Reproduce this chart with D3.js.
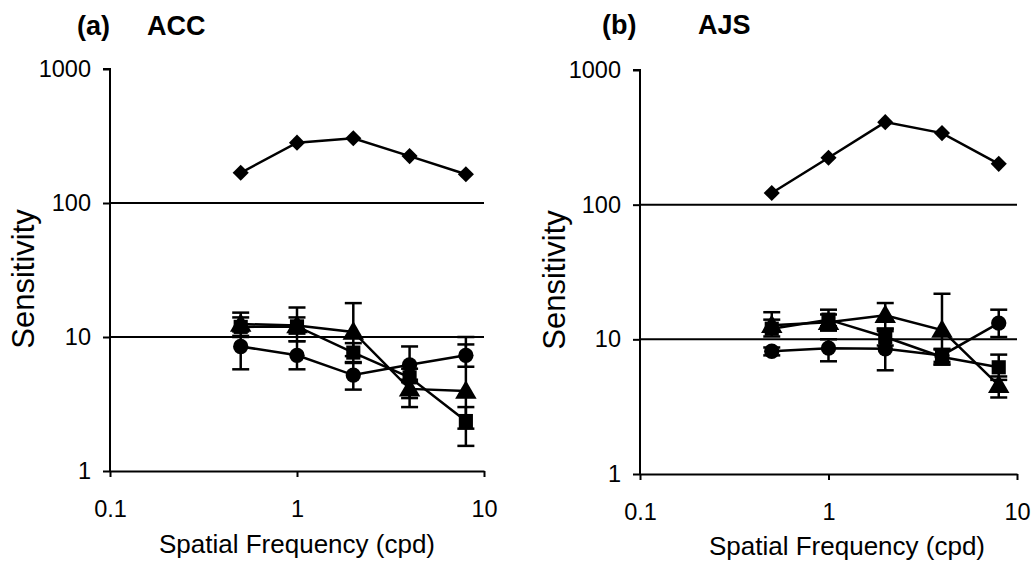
<!DOCTYPE html>
<html>
<head>
<meta charset="utf-8">
<script src="https://cdn.jsdelivr.net/npm/d3@7"></script>
<style>
  html, body { margin: 0; padding: 0; background: #fff; }
  svg { display: block; font-family: "Liberation Sans", Arial, Helvetica, sans-serif; }
</style>
</head>
<body>
<svg id="chart" width="1033" height="563"></svg>
<script>
// Spatial frequencies tested (cpd)
const frequencies = [0.5, 1, 2, 4, 8];
const xTicks = [0.1, 1, 10];
const yTicks = [1, 10, 100, 1000];

// Panel (a) ACC
const accDiamond  = [168, 282, 304, 224, 164];
const accCircle   = [8.5, 7.3, 5.2, 6.2, 7.3];
const accCircleLo = [5.74, 5.74, 4.05, 4.6, 6.0];
const accCircleHi = [10.2, 9.3, 6.5, 8.5, 8.8];
const accSquare   = [11.9, 12.0, 7.65, 5.0, 2.36];
const accSquareLo = [10.0, 9.3, 6.4, 3.0, 1.54];
const accSquareHi = [15.2, 16.6, 9.0, 5.8, 3.0];
const accTri      = [12.5, 12.2, 10.9, 4.1, 3.95];
const accTriLo    = [11.0, 10.6, 7.2, 3.5, 2.07];
const accTriHi    = [14.0, 14.0, 17.9, 4.8, 10.0];

// Panel (b) AJS
const ajsDiamond  = [122, 223, 410, 340, 201];
const ajsCircle   = [8.15, 8.6, 8.5, 7.6, 13.2];
const ajsCircleLo = [7.6, 6.87, 5.89, 6.8, 10.4];
const ajsCircleHi = [8.7, 10.0, 11.5, 8.4, 16.6];
const ajsSquare   = [12.0, 14.0, 10.4, 7.4, 6.2];
const ajsSquareLo = [10.5, 12.5, 9.0, 6.5, 5.0];
const ajsSquareHi = [15.9, 15.3, 12.0, 8.5, 7.7];
const ajsTri      = [12.7, 13.4, 15.1, 11.7, 4.55];
const ajsTriLo    = [11.5, 11.6, 12.0, 6.5, 3.7];
const ajsTriHi    = [14.0, 16.6, 18.6, 21.8, 5.3];

const panels = [
  {
    letter: "(a)", name: "ACC",
    xRange: [110, 484], yRange: [471, 69],
    letterX: 77, nameX: 147, titleY: 35,
    xTitleX: 297, xTitleY: 553, yTitleX: 34, yTitleY: 279,
    diamond: accDiamond,
    series: [
      { shape: "circle",   v: accCircle, lo: accCircleLo, hi: accCircleHi },
      { shape: "square",   v: accSquare, lo: accSquareLo, hi: accSquareHi },
      { shape: "triangle", v: accTri,    lo: accTriLo,    hi: accTriHi }
    ]
  },
  {
    letter: "(b)", name: "AJS",
    xRange: [640, 1017], yRange: [474, 70],
    letterX: 602, nameX: 698, titleY: 34,
    xTitleX: 847, xTitleY: 555, yTitleX: 565, yTitleY: 280,
    diamond: ajsDiamond,
    series: [
      { shape: "circle",   v: ajsCircle, lo: ajsCircleLo, hi: ajsCircleHi },
      { shape: "square",   v: ajsSquare, lo: ajsSquareLo, hi: ajsSquareHi },
      { shape: "triangle", v: ajsTri,    lo: ajsTriLo,    hi: ajsTriHi }
    ]
  }
];

const svg = d3.select("#chart");
const ink = "#000";

const symbols = {
  circle:   d3.symbol().type(d3.symbolCircle).size(185),
  square:   d3.symbol().type(d3.symbolSquare).size(200),
  triangle: d3.symbol().type(d3.symbolTriangle).size(200),
  diamond:  d3.symbol().type(d3.symbolSquare).size(130)
};

panels.forEach(p => {
  const x = d3.scaleLog().domain([0.1, 10]).range(p.xRange);
  const y = d3.scaleLog().domain([1, 1000]).range(p.yRange);
  const g = svg.append("g");

  // reference lines at 10 and 100
  g.selectAll("line.ref").data([10, 100]).join("line")
    .attr("class", "ref")
    .attr("x1", x(0.1)).attr("x2", x(10))
    .attr("y1", d => y(d)).attr("y2", d => y(d))
    .attr("stroke", ink).attr("stroke-width", 2);

  // axes
  const yAxis = d3.axisLeft(y).tickValues(yTicks).tickFormat(d3.format("d"))
    .tickSize(7).tickPadding(12);
  const xAxis = d3.axisBottom(x).tickValues(xTicks).tickFormat(d => d < 1 ? "0.1" : d3.format("d")(d))
    .tickSize(6).tickPadding(23).tickSizeOuter(0);

  const ya = g.append("g").attr("transform", `translate(${x(0.1)},0)`).call(yAxis);
  const xa = g.append("g").attr("transform", `translate(0,${y(1)})`).call(xAxis);
  [ya, xa].forEach(a => {
    a.select(".domain").attr("stroke", ink).attr("stroke-width", 2);
    a.selectAll(".tick line").attr("stroke", ink).attr("stroke-width", 2);
    a.selectAll(".tick text").attr("fill", ink).attr("font-size", 23.5)
      .attr("font-family", "Liberation Sans, Arial, sans-serif");
  });
  ya.select(".domain").attr("d", `M-7,${y(1000)}H0V${y(1)}`);

  // titles
  g.append("text").attr("x", p.letterX).attr("y", p.titleY)
    .attr("font-size", 27).attr("font-weight", "bold").text(p.letter);
  g.append("text").attr("x", p.nameX).attr("y", p.titleY)
    .attr("font-size", 27).attr("font-weight", "bold").text(p.name);
  g.append("text").attr("x", p.xTitleX).attr("y", p.xTitleY)
    .attr("text-anchor", "middle").attr("font-size", 26).text("Spatial Frequency (cpd)");
  g.append("text")
    .attr("transform", `translate(${p.yTitleX},${p.yTitleY}) rotate(-90)`)
    .attr("text-anchor", "middle").attr("font-size", 31).text("Sensitivity");

  const line = d3.line().x((d, i) => x(frequencies[i])).y(d => y(d));

  // lower series: error bars, lines, markers
  p.series.forEach(s => {
    const eg = g.append("g");
    frequencies.forEach((f, i) => {
      const cx = x(f);
      eg.append("line").attr("x1", cx).attr("x2", cx)
        .attr("y1", y(s.lo[i])).attr("y2", y(s.hi[i]))
        .attr("stroke", ink).attr("stroke-width", 2.5);
      [s.lo[i], s.hi[i]].forEach(v => {
        eg.append("line").attr("x1", cx - 8.5).attr("x2", cx + 8.5)
          .attr("y1", y(v)).attr("y2", y(v))
          .attr("stroke", ink).attr("stroke-width", 2.5);
      });
    });
  });
  p.series.forEach(s => {
    g.append("path").attr("d", line(s.v))
      .attr("fill", "none").attr("stroke", ink).attr("stroke-width", 2.5);
  });
  p.series.forEach(s => {
    g.selectAll(null).data(s.v).join("path")
      .attr("d", symbols[s.shape])
      .attr("transform", (d, i) => `translate(${x(frequencies[i])},${y(d) + (s.shape === "triangle" ? 1.5 : 0)})`)
      .attr("fill", ink);
  });

  // high-sensitivity series (diamonds)
  g.append("path").attr("d", line(p.diamond))
    .attr("fill", "none").attr("stroke", ink).attr("stroke-width", 2.5);
  g.selectAll(null).data(p.diamond).join("path")
    .attr("d", symbols.diamond)
    .attr("transform", (d, i) => `translate(${x(frequencies[i])},${y(d)}) rotate(45)`)
    .attr("fill", ink);
});
</script>
</body>
</html>
